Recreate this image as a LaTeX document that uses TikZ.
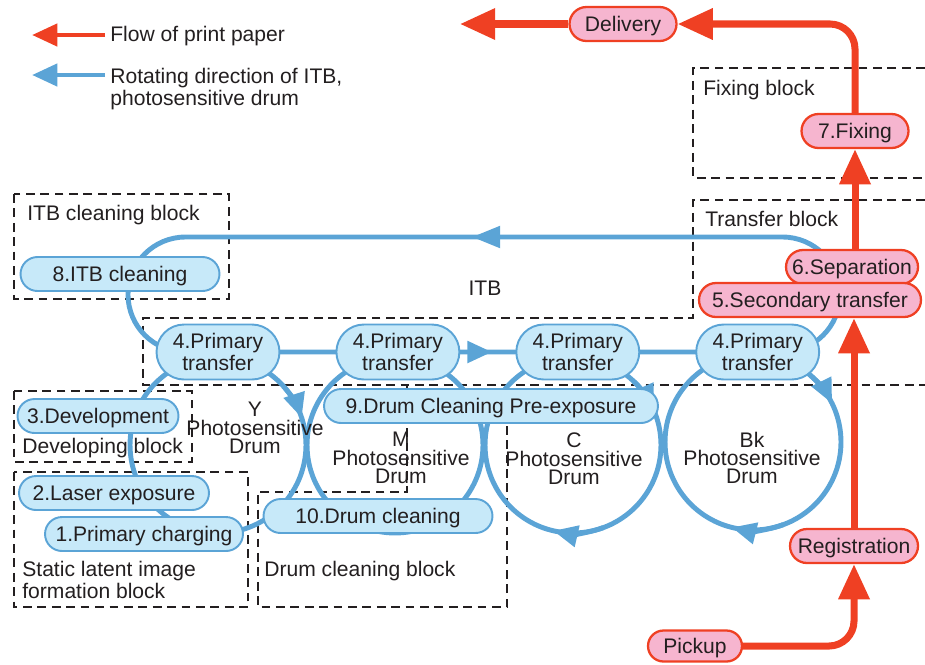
\documentclass[tikz,border=0pt]{standalone}
\usepackage{fontspec}
\setmainfont{Liberation Sans}
\usetikzlibrary{arrows.meta,positioning,calc,shapes.misc}
\definecolor{ccblue}{RGB}{91,164,214}
\definecolor{ccbluefill}{RGB}{199,233,249}
\definecolor{ccred}{RGB}{239,64,35}
\definecolor{ccpink}{RGB}{246,181,207}
\definecolor{cctext}{RGB}{35,31,32}
\tikzset{
  stepblue/.style={rounded rectangle, draw=ccblue, fill=ccbluefill, line width=1.1pt,
    minimum height=0.68cm, inner sep=0pt, text height=8.6pt, text depth=0pt},
  stepred/.style={rounded rectangle, draw=ccred, fill=ccpink, line width=1.3pt,
    minimum height=0.68cm, inner sep=0pt, text height=8.6pt, text depth=0pt},
  xfer/.style={stepblue, minimum width=2.46cm, minimum height=1.1cm, align=center,
    text height=, text depth=, font=\fontsize{12}{12.5}\selectfont},
  belt/.style={draw=ccblue, line width=2.8pt},
  drum/.style={circle, draw=ccblue, line width=2.8pt, minimum size=3.52cm,
    inner sep=0pt, outer sep=0pt},
  paper/.style={draw=ccred, line width=4pt},
  blockline/.style={draw=cctext, line width=1.6pt, dash pattern=on 5pt off 3.2pt},
  blocklabel/.style={anchor=west, inner sep=0pt, align=left},
  drumlabel/.style={align=center, inner sep=0pt, font=\fontsize{12}{10.5}\selectfont},
  bluetip/.style={-{Triangle[length=14pt,width=12pt]}},
  legtip/.style={-{Triangle[length=14.5pt,width=12.5pt]}},
  redtip/.style={-{Triangle[length=20pt,width=17pt]}},
}
\begin{document}
\begin{tikzpicture}[x=0.02cm,y=-0.02cm,font=\fontsize{12}{13}\selectfont,text=cctext]
  \useasboundingbox (0,0) rectangle (925,664);

  % blocks
  \draw[blockline] (14,194) rectangle (229,299);
  \draw[blockline] (14,391) rectangle (192,462);
  \draw[blockline] (14,472) rectangle (248,607);
  \draw[blockline] (407,385) -- (407,492) -- (258,492) -- (258,607) -- (507,607) -- (507,385);
  \draw[blockline] (925,200) -- (693,200) -- (693,318) -- (143,318) -- (143,385) -- (925,385);
  \draw[blockline] (925,68) -- (693,68) -- (693,178) -- (925,178);
  \node[blocklabel] (itbblock) at (27,215) {ITB cleaning block};
  \node[blocklabel] (devblock) at (22,448) {Developing block};
  \node[blocklabel] (latentblock) at (22,580) {Static latent image\\formation block};
  \node[blocklabel] (cleanblock) at (264,571) {Drum cleaning block};
  \node[blocklabel] (fixblock) at (703,90) {Fixing block};
  \node[blocklabel] (xferblock) at (705,219) {Transfer block};

  % legend
  \coordinate (legredtip) at (32,35);
  \coordinate (legbluestart) at (105,75);
  \coordinate (legbluetip) at (32,75);
  \node[blocklabel] (legpaper) at (110,36) {Flow of print paper};
  \node[blocklabel] (legbelt) at (110,89) {Rotating direction of ITB,\\photosensitive drum};
  \draw[draw=ccred, line width=2.8pt, legtip] ([xshift=-0.1cm]legpaper.west |- legredtip) -- (legredtip);
  \draw[belt, legtip] (legbluestart) -- (legbluetip);

  % ITB and drums
  \draw[belt, rounded corners=1.15cm] (128,237) rectangle (840,352);
  \coordinate (beltstart) at (540,237);
  \coordinate (belttip) at (472,237);
  \draw[belt, -{Triangle[length=16pt,width=12pt]}] (beltstart) -- (belttip);
  \node (itblabel) at (485,288) {ITB};

  \node[drum] (ydrum) at (218,445) {};
  \node[drum] (mdrum) at (395,445) {};
  \node[drum] (cdrum) at (573,445) {};
  \node[drum] (kdrum) at (753,442) {};
  \draw[belt, bluetip] (ydrum.42) arc[start angle=42, end angle=18, radius=1.76cm];
  \draw[belt, bluetip] (cdrum.46) arc[start angle=46, end angle=24, radius=1.76cm];
  \draw[belt, bluetip] (kdrum.50) arc[start angle=50, end angle=26, radius=1.76cm];
  \draw[belt, bluetip] (cdrum.290) arc[start angle=290, end angle=257, radius=1.76cm];
  \draw[belt, bluetip] (kdrum.290) arc[start angle=290, end angle=256, radius=1.76cm];

  % paper path
  \coordinate (papertip) at (460,24);
  \node[stepred, minimum width=2.14cm] (delivery) at (623,24) {Delivery};
  \node[stepred, minimum width=2.14cm] (fixing) at (855,131) {7.Fixing};
  \node[stepred, minimum width=2.64cm] (separation) at (852,267) {6.Separation};
  \node[stepred, minimum width=4.44cm] (secondary) at (810,300) {5.Secondary transfer};
  \node[stepred, minimum width=2.56cm] (registration) at (854,546) {Registration};
  \node[stepred, minimum width=1.88cm, minimum height=0.62cm] (pickup) at (695,646) {Pickup};
  \draw[paper, redtip, rounded corners=0.5cm] (pickup.east) -| (registration.south);
  \draw[paper, redtip] (registration.north) -- (registration.north |- secondary.south);
  \draw[paper, redtip] (fixing.south |- separation.north) -- (fixing.south);
  \draw[paper, redtip, rounded corners=0.5cm] (fixing.north) |- (delivery.east);
  \draw[paper, redtip] (delivery.west) -- (papertip);

  % process steps
  \node[xfer] (xfer1) at (218,352) {4.Primary\\transfer};
  \node[xfer, right=1.1cm of xfer1] (xfer2) {4.Primary\\transfer};
  \node[xfer, right=1.1cm of xfer2] (xfer3) {4.Primary\\transfer};
  \node[xfer, right=1.1cm of xfer3] (xfer4) {4.Primary\\transfer};
  \coordinate (xfertip) at (492,352);
  \draw[belt, bluetip] (xfer2.east) -- (xfertip);
  \node[stepblue, minimum width=3.98cm] (itbclean) at (120,274) {8.ITB cleaning};
  \node[stepblue, minimum width=3.22cm] (develop) at (98,416) {3.Development};
  \node[stepblue, minimum width=3.8cm] (laser) at (114,493) {2.Laser exposure};
  \node[stepblue, minimum width=3.96cm] (charge) at (144,534) {1.Primary charging};
  \node[stepblue, minimum width=4.58cm] (drumclean) at (378,516) {10.Drum cleaning};
  \node[stepblue, minimum width=6.68cm] (preexp) at (491,406) {9.Drum Cleaning Pre-exposure};

  % drum labels
  \node[drumlabel] (ylabel) at (255,428) {Y\\Photosensitive\\Drum};
  \node[drumlabel] (mlabel) at (401,458) {M\\Photosensitive\\Drum};
  \node[drumlabel] (clabel) at (574,459) {C\\Photosensitive\\Drum};
  \node[drumlabel] (klabel) at (752,458) {Bk\\Photosensitive\\Drum};
\end{tikzpicture}
\end{document}
